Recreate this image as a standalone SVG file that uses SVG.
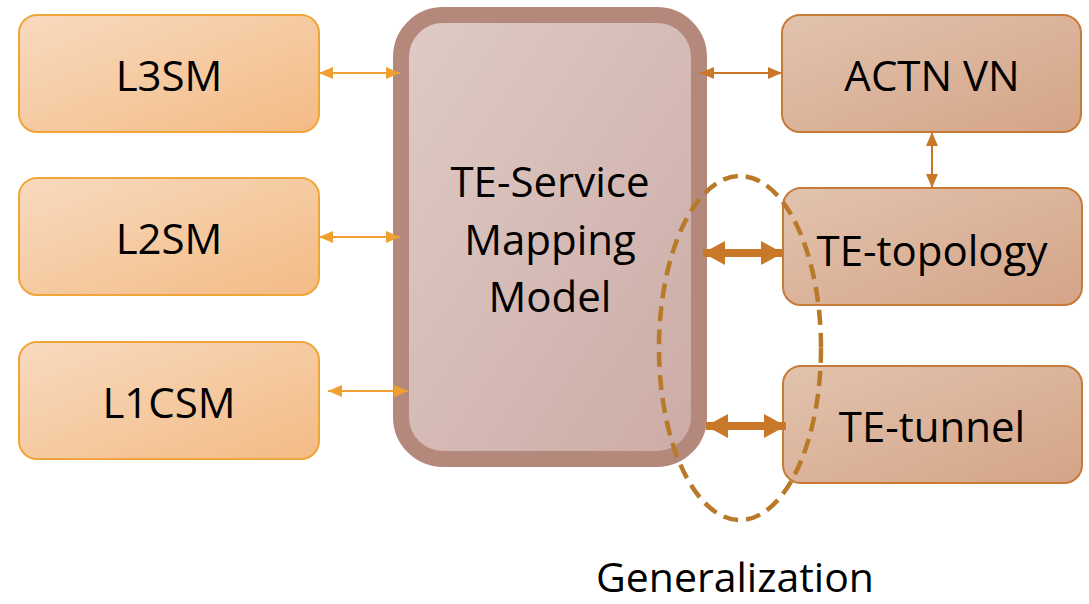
<svg xmlns="http://www.w3.org/2000/svg" width="1089" height="604" viewBox="0 0 1089 604">
<defs>
<linearGradient id="gL" x1="0" y1="0" x2="1" y2="1"><stop offset="0" stop-color="#f8dabf"/><stop offset="1" stop-color="#f3bb85"/></linearGradient>
<linearGradient id="gR" x1="0" y1="0" x2="1" y2="1"><stop offset="0" stop-color="#e2c3ae"/><stop offset="1" stop-color="#d4a487"/></linearGradient>
<linearGradient id="gC" x1="0" y1="0" x2="1" y2="1"><stop offset="0" stop-color="#dfcbc7"/><stop offset="1" stop-color="#ccaba5"/></linearGradient>
<marker id="aOs" viewBox="0 0 10 10" refX="10" refY="5" markerWidth="14" markerHeight="12" orient="auto-start-reverse" markerUnits="userSpaceOnUse" preserveAspectRatio="none"><path d="M0,0 L10,5 L0,10 z" fill="#f0a030"/></marker>
<marker id="aB" viewBox="0 0 10 10" refX="10" refY="5" markerWidth="14" markerHeight="12" orient="auto-start-reverse" markerUnits="userSpaceOnUse" preserveAspectRatio="none"><path d="M0,0 L10,5 L0,10 z" fill="#c87828"/></marker>
<marker id="aT" viewBox="0 0 10 10" refX="10" refY="5" markerWidth="22" markerHeight="24" orient="auto-start-reverse" markerUnits="userSpaceOnUse" preserveAspectRatio="none"><path d="M0,0 L10,5 L0,10 z" fill="#c87828"/></marker>
</defs>
<style>
.t{font-family:"Open Sans","Lato",sans-serif;font-size:42px;fill:#000;text-anchor:middle;dominant-baseline:central}
.g{font-family:"Open Sans","Lato",sans-serif;font-size:41px;fill:#000;text-anchor:middle}
.ln{stroke:#f0a030;stroke-width:2;fill:none}
.lr{stroke:#c87828;stroke-width:2;fill:none}
.lt{stroke:#c87828;stroke-width:8;fill:none}
</style>
<rect width="1089" height="604" fill="#fff"/>
<g id="L3SM"><rect x="19" y="15" width="300" height="117" rx="18" fill="url(#gL)" stroke="#f0a538" stroke-width="2"/><text class="t" x="169" y="74">L3SM</text></g>
<g id="L2SM"><rect x="19" y="178" width="300" height="117" rx="18" fill="url(#gL)" stroke="#f0a538" stroke-width="2"/><text class="t" x="169" y="237">L2SM</text></g>
<g id="L1CSM"><rect x="19" y="342" width="300" height="117" rx="18" fill="url(#gL)" stroke="#f0a538" stroke-width="2"/><text class="t" x="169" y="401">L1CSM</text></g>
<g id="center"><rect x="401" y="15" width="298" height="444" rx="42" fill="url(#gC)" stroke="#b4897c" stroke-width="16"/><text class="t" x="550" y="180">TE-Service</text><text class="t" x="550" y="238">Mapping</text><text class="t" x="550" y="295">Model</text></g>
<g id="ACTNVN"><rect x="782" y="15" width="299" height="117" rx="18" fill="url(#gR)" stroke="#c87a38" stroke-width="2"/><text class="t" x="932" y="74">ACTN VN</text></g>
<g id="TEtopology"><rect x="783" y="188" width="299" height="117" rx="18" fill="url(#gR)" stroke="#c87a38" stroke-width="2"/><text class="t" x="932" y="249">TE-topology</text></g>
<g id="TEtunnel"><rect x="783" y="366" width="299" height="117" rx="18" fill="url(#gR)" stroke="#c87a38" stroke-width="2"/><text class="t" x="932" y="425">TE-tunnel</text></g>
<g id="connectors">
<line class="ln" x1="319" y1="73" x2="400" y2="73" marker-start="url(#aOs)" marker-end="url(#aOs)"/>
<line class="ln" x1="319" y1="237" x2="400" y2="237" marker-start="url(#aOs)" marker-end="url(#aOs)"/>
<line class="ln" x1="328" y1="391" x2="408" y2="391" marker-start="url(#aOs)" marker-end="url(#aOs)"/>
<line class="lr" x1="700" y1="73" x2="782" y2="73" marker-start="url(#aB)" marker-end="url(#aB)"/>
<line class="lr" x1="932" y1="132" x2="932" y2="188" marker-start="url(#aB)" marker-end="url(#aB)"/>
<line class="lt" x1="703" y1="253" x2="783" y2="253" marker-start="url(#aT)" marker-end="url(#aT)"/>
<line class="lt" x1="706" y1="426" x2="786" y2="426" marker-start="url(#aT)" marker-end="url(#aT)"/>
</g>
<g id="generalization">
<ellipse cx="740" cy="348" rx="81" ry="172" fill="none" stroke="#b87a28" stroke-width="4.5" stroke-dasharray="15 8"/>
<text class="g" x="735" y="592">Generalization</text>
</g>
</svg>
